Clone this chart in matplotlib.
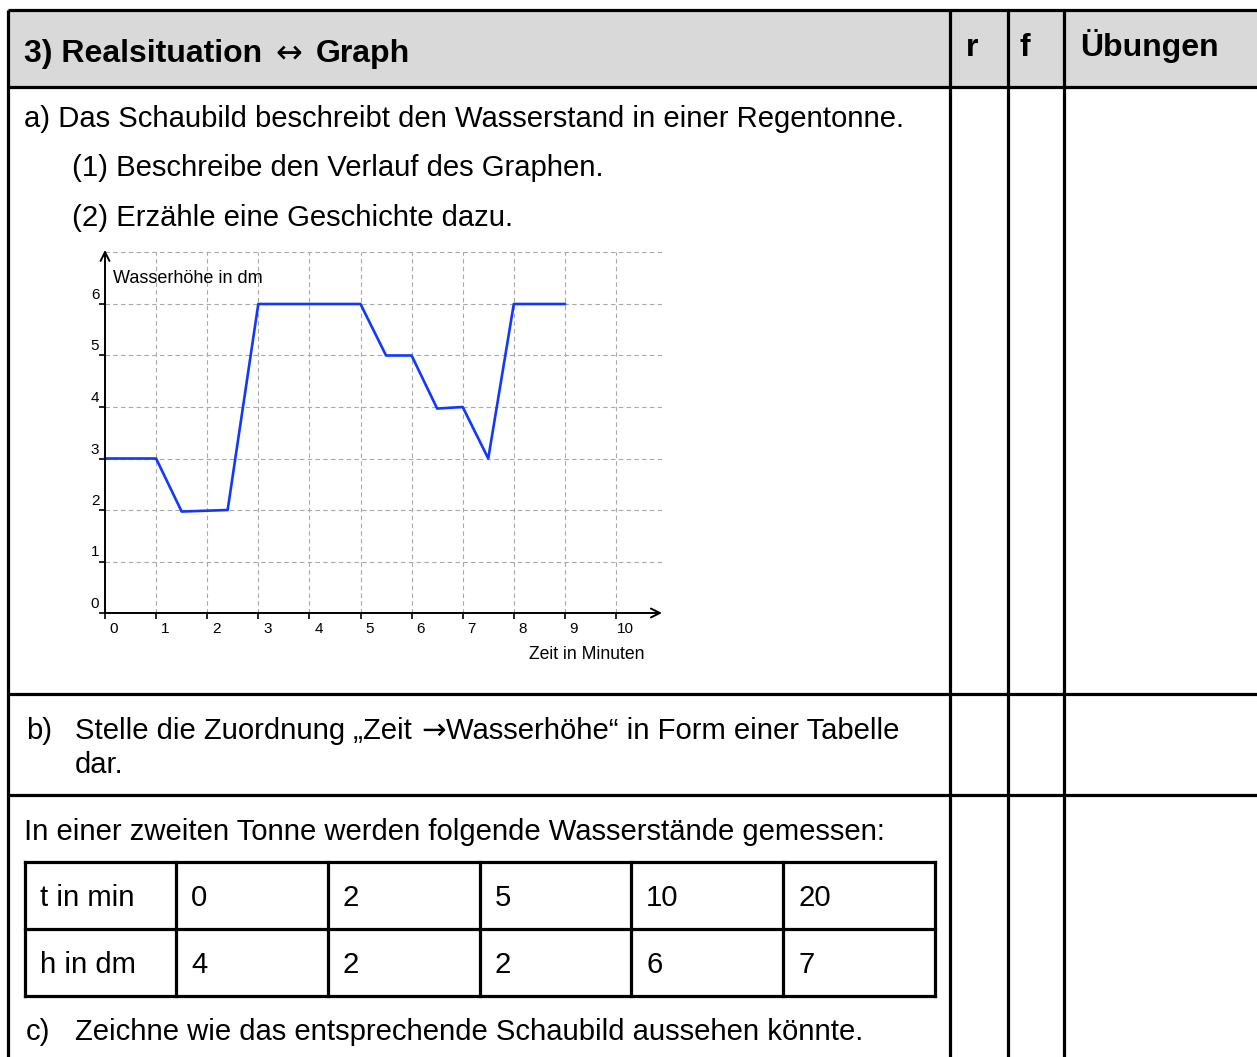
import matplotlib
matplotlib.use("Agg")
import matplotlib.pyplot as plt
from matplotlib.transforms import offset_copy
from matplotlib.patches import Rectangle

plt.rcParams['font.family'] = ['Liberation Sans', 'DejaVu Sans']

# ---------------- data ----------------
time_min = [0, 1, 1.5, 2.4, 3, 5, 5.5, 6, 6.5, 7, 7.5, 8, 9]
height_dm = [3, 3, 1.97, 2, 6, 6, 5, 5, 3.97, 4, 3, 6, 6]
x_ticks = list(range(0, 11))
y_ticks = list(range(0, 7))
x_label = "Zeit in Minuten"
y_label = "Wasserhöhe in dm"

header_title = ["3) Realsituation", "\u2194", "Graph"]
header_cols = ["r", "f", "Übungen"]
task_a = "a) Das Schaubild beschreibt den Wasserstand in einer Regentonne."
task_a1 = "(1) Beschreibe den Verlauf des Graphen."
task_a2 = "(2) Erzähle eine Geschichte dazu."
task_b_line1 = ["Stelle die Zuordnung \u201eZeit", "\u2192", "Wasserhöhe\u201c in Form einer Tabelle"]
task_b_line2 = "dar."
task_intro = "In einer zweiten Tonne werden folgende Wasserstände gemessen:"
task_c = "Zeichne wie das entsprechende Schaubild aussehen könnte."
table_row_labels = ["t in min", "h in dm"]
table_t = [0, 2, 5, 10, 20]
table_h = [4, 2, 2, 6, 7]

# ---------------- figure ----------------
W, H = 1257, 1057
fig = plt.figure(figsize=(W / 100, H / 100), dpi=100)
bg = fig.add_axes([0, 0, 1, 1])
bg.set_xlim(0, W)
bg.set_ylim(H, 0)
bg.axis('off')
renderer = fig.canvas.get_renderer()


def text_width(s, **kw):
    t = bg.text(0, 0, s, **kw)
    w = t.get_window_extent(renderer=renderer).width
    t.remove()
    return w


def draw_runs(x, y, runs, fontsize):
    """runs: list of (string, family, weight, gap_after_px)"""
    for s, fam, weight, gap in runs:
        t = bg.text(x, y, s, va='baseline', family=fam, fontweight=weight, fontsize=fontsize)
        x += t.get_window_extent(renderer=renderer).width + gap


LW = 2.3
# header fill
bg.add_patch(Rectangle((8, 10), W - 8, 77, facecolor='#d9d9d9', edgecolor='none', zorder=0))
for y in [10, 87, 694, 795]:
    bg.plot([8, W], [y, y], color='black', lw=LW, solid_capstyle='butt')
for x in [8, 950, 1008, 1064]:
    bg.plot([x, x], [10, H], color='black', lw=LW, solid_capstyle='butt')

BODY = 21.1
HEAD = 23.0
LIB = ['Liberation Sans', 'DejaVu Sans']
DJ = ['DejaVu Sans']
sp_head = text_width("a a", fontsize=HEAD, fontweight='bold') - text_width("aa", fontsize=HEAD, fontweight='bold')
sp_body = text_width("a a", fontsize=BODY) - text_width("aa", fontsize=BODY)

draw_runs(24, 62, [(header_title[0], LIB, 'bold', sp_head + 4),
                   (header_title[1], DJ, 'normal', sp_head + 5),
                   (header_title[2], LIB, 'bold', 0)],
          fontsize=HEAD)
for x, s in zip([966, 1020, 1080], header_cols):
    bg.text(x, 56, s, fontsize=HEAD, fontweight='bold', va='baseline')

bg.text(24, 127, task_a, fontsize=BODY, va='baseline')
bg.text(72, 176, task_a1, fontsize=BODY, va='baseline')
bg.text(72, 226, task_a2, fontsize=BODY, va='baseline')
bg.text(26, 739, "b)", fontsize=BODY, va='baseline')
draw_runs(75, 739, [(task_b_line1[0], LIB, 'normal', sp_body + 1),
                    (task_b_line1[1], DJ, 'normal', 0),
                    (task_b_line1[2], LIB, 'normal', 0)], fontsize=BODY)
bg.text(75, 773, task_b_line2, fontsize=BODY, va='baseline')
bg.text(24, 840, task_intro, fontsize=BODY, va='baseline')
bg.text(26, 1040, "c)", fontsize=BODY, va='baseline')
bg.text(75, 1040, task_c, fontsize=BODY, va='baseline')

# inner value table
col_edges = [25, 176, 328, 480, 631, 783, 935]
row_edges = [862, 929, 996]
for y in row_edges:
    bg.plot([col_edges[0], col_edges[-1]], [y, y], color='black', lw=LW, solid_capstyle='projecting')
for x in col_edges:
    bg.plot([x, x], [row_edges[0], row_edges[-1]], color='black', lw=LW, solid_capstyle='projecting')
rows = [[table_row_labels[0]] + [str(v) for v in table_t],
        [table_row_labels[1]] + [str(v) for v in table_h]]
for r, row in enumerate(rows):
    base = row_edges[r] + 44
    for c, s in enumerate(row):
        bg.text(col_edges[c] + 15, base, s, fontsize=BODY, va='baseline')

# ---------------- chart ----------------
x0_px, y0_px = 105, 613
ux, uy = 51.1, 51.5
xmax, ymax = 10.9, 7.05
ax = fig.add_axes([x0_px / W, (H - y0_px) / H, xmax * ux / W, ymax * uy / H])
ax.set_facecolor('none')
ax.set_xlim(0, xmax)
ax.set_ylim(0, ymax)
for sp in ax.spines.values():
    sp.set_visible(False)
ax.set_xticks(x_ticks)
ax.set_yticks(y_ticks)
ax.tick_params(labelbottom=False, labelleft=False, direction='out', length=4, width=1.2, color='black')
grid_kw = dict(color='#a8a8a8', lw=0.8, ls=(0, (4, 3)), zorder=1)
for x in x_ticks[1:]:
    ax.plot([x, x], [0, 7], **grid_kw)
for y in y_ticks[1:] + [7]:
    ax.plot([0, xmax], [y, y], **grid_kw)

ax.plot(time_min, height_dm, color='#1238ff', lw=1.9, zorder=3, clip_on=False)

arrow_kw = dict(arrowstyle='->', lw=1.4, color='black', shrinkA=0, shrinkB=0, mutation_scale=16)
ax.annotate('', xy=(xmax, 0), xytext=(0, 0), arrowprops=arrow_kw, annotation_clip=False, zorder=4)
ax.annotate('', xy=(0, ymax), xytext=(0, 0), arrowprops=arrow_kw, annotation_clip=False, zorder=4)

tx = offset_copy(ax.transData, fig=fig, x=9, y=-9, units='dots')
for x in x_ticks:
    ax.text(x, 0, str(x), transform=tx, fontsize=11, ha='center', va='top')
ty = offset_copy(ax.transData, fig=fig, x=-10, y=2, units='dots')
for y in y_ticks:
    ax.text(0, y, str(y), transform=ty, fontsize=11, ha='center', va='bottom')

ax.text(0, 6.41, y_label, transform=offset_copy(ax.transData, fig=fig, x=8, y=0, units='dots'),
        fontsize=13, va='baseline', ha='left')
ax.text(10.55, 0, x_label, transform=offset_copy(ax.transData, fig=fig, x=0, y=-46, units='dots'),
        fontsize=12.7, va='baseline', ha='right')

fig.savefig("out.png", dpi=100, facecolor='white')
